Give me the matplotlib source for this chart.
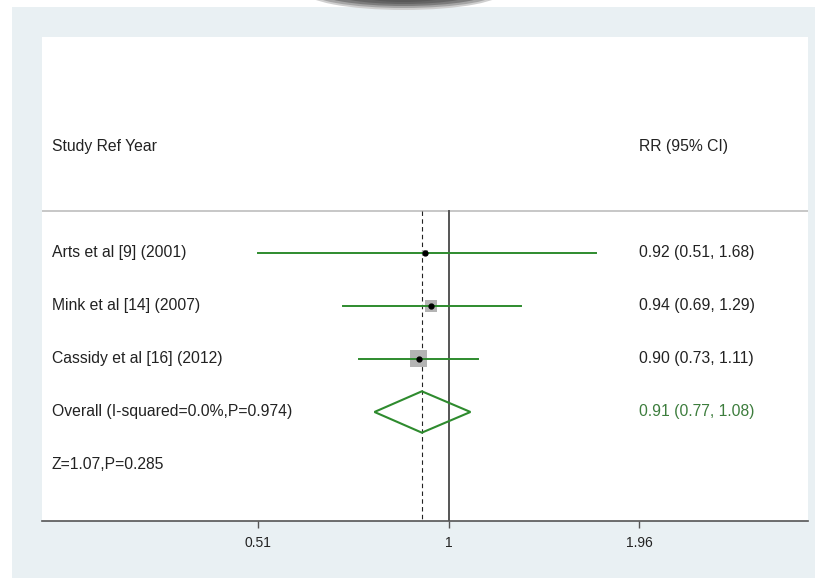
import numpy as np
import matplotlib
matplotlib.use("Agg")
import matplotlib.pyplot as plt
from matplotlib.patches import Rectangle, Ellipse, Polygon

plt.rcParams['font.family'] = ['Liberation Sans', 'DejaVu Sans']

# ---- data ----
studies = ["Arts et al [9] (2001)", "Mink et al [14] (2007)", "Cassidy et al [16] (2012)"]
rr = [0.92, 0.94, 0.90]
ci_low = [0.51, 0.69, 0.73]
ci_high = [1.68, 1.29, 1.11]
overall_label = "Overall (I-squared=0.0%,P=0.974)"
overall_rr = 0.91
overall_low = 0.77
overall_high = 1.08
z_label = "Z=1.07,P=0.285"
header_left = "Study Ref Year"
header_right = "RR (95% CI)"
xticks = [0.51, 1, 1.96]
xtick_labels = ["0.51", "1", "1.96"]

W, H = 815, 578
fig = plt.figure(figsize=(W / 100, H / 100), dpi=100)
fig.patch.set_facecolor("white")


def fx(px):
    return px / W


def fy(py):
    return 1 - py / H


# outer panel
fig.patches.append(Rectangle((fx(12), fy(578)), fx(815) - fx(12), fy(7) - fy(578),
                             transform=fig.transFigure, facecolor="#e9f0f3",
                             edgecolor="none", zorder=-5))
# dark tab at the top edge
for w, h, c in [(200, 38, "#cfcfcf"), (192, 34, "#a5a5a5"), (175, 30, "#7c7c7c"),
                (150, 26, "#646464"), (110, 22, "#585858")]:
    fig.patches.append(Ellipse((fx(404), fy(-9)), w / W, h / H,
                               transform=fig.transFigure, facecolor=c,
                               edgecolor="none", zorder=-4))

# plotting area
ax = fig.add_axes([fx(42), fy(521), fx(808) - fx(42), fy(37) - fy(521)])
ax.set_zorder(2)
ax.set_facecolor("white")
ax.set_xscale("log")
ax.set_xlim(0.2385, 3.55)
ax.set_ylim(6.057, -3.075)
for s in ["top", "right", "left"]:
    ax.spines[s].set_visible(False)
ax.spines["bottom"].set_color("#555555")
ax.spines["bottom"].set_linewidth(1.2)
ax.set_yticks([])
ax.set_xticks(xticks)
ax.set_xticklabels(xtick_labels, fontsize=10, color="#222222")
ax.xaxis.set_minor_locator(matplotlib.ticker.NullLocator())
ax.tick_params(axis="x", length=5, width=1, color="#555555", pad=6)

green = "#2e8b2e"
fs = 11.3
n = len(studies)
rows = np.arange(1, n + 1)
overall_row = n + 1
z_row = n + 2
header_row = -1.0
sep_row = 0.21
x_left_text = 0.247
x_right_text = 1.96

# separator under headers
ax.axhline(sep_row, color="#bdbdbd", lw=1.2, zorder=1)

# reference lines
ax.plot([1, 1], [sep_row, 6.057], color="#555555", lw=1.4, zorder=2)
ax.plot([overall_rr, overall_rr], [sep_row, 6.057], color="#222222", lw=0.8,
        ls=(0, (4, 3)), zorder=2)

# study weights (inverse variance, from the confidence intervals)
se = (np.log(ci_high) - np.log(ci_low)) / (2 * 1.96)
weights = 1 / se ** 2
weights = weights / weights.sum()
box_max = 0.16  # box half-height in row units for the heaviest study

x_per_px = (np.log(3.55) - np.log(0.2385)) / (808 - 42)
y_per_px = (6.057 + 3.075) / (521 - 37)

for i in range(n):
    y = rows[i]
    half_y = box_max * np.sqrt(weights[i] / weights.max())
    half_lnx = half_y / y_per_px * x_per_px
    bx0 = rr[i] * np.exp(-half_lnx)
    bx1 = rr[i] * np.exp(half_lnx)
    ax.add_patch(Rectangle((bx0, y - half_y), bx1 - bx0, 2 * half_y,
                           facecolor="#b4b4b4", edgecolor="none", zorder=3))
    ax.plot([ci_low[i], ci_high[i]], [y, y], color=green, lw=1.4, zorder=4)
    ax.plot(rr[i], y, "o", color="black", ms=3.5, zorder=5)
    ax.text(x_left_text, y, studies[i], ha="left", va="center", fontsize=fs, color="#222222")
    ax.text(x_right_text, y, f"{rr[i]:.2f} ({ci_low[i]:.2f}, {ci_high[i]:.2f})",
            ha="left", va="center", fontsize=fs, color="#222222")

# pooled estimate diamond
dh = 0.39
ax.add_patch(Polygon([(overall_low, overall_row), (overall_rr, overall_row - dh),
                      (overall_high, overall_row), (overall_rr, overall_row + dh)],
                     closed=True, facecolor="none", edgecolor=green, lw=1.5, zorder=4))
ax.text(x_left_text, overall_row, overall_label, ha="left", va="center", fontsize=fs,
        color="#222222")
ax.text(x_right_text, overall_row, f"{overall_rr:.2f} ({overall_low:.2f}, {overall_high:.2f})",
        ha="left", va="center", fontsize=fs, color="#3d7d3d")
ax.text(x_left_text, z_row, z_label, ha="left", va="center", fontsize=fs, color="#222222")

# column headers
ax.text(x_left_text, header_row, header_left, ha="left", va="center", fontsize=fs,
        color="#222222")
ax.text(x_right_text, header_row, header_right, ha="left", va="center", fontsize=fs,
        color="#222222")

fig.savefig("out.png", dpi=100, facecolor=fig.get_facecolor())
